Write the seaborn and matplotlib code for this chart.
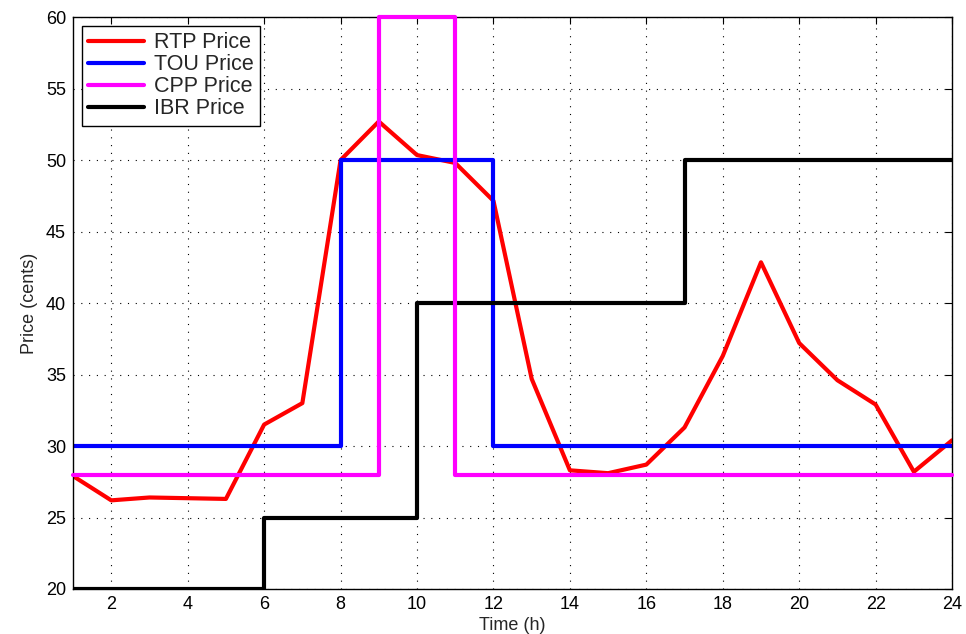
import matplotlib
matplotlib.use("Agg")
import matplotlib.pyplot as plt
import seaborn as sns
import numpy as np

hours = list(range(1, 25))
rtp = [27.9, 26.2, 26.4, 26.35, 26.3, 31.5, 33.0, 50.0, 52.7, 50.35, 49.8, 47.15,
       34.7, 28.3, 28.1, 28.7, 31.3, 36.3, 42.85, 37.2, 34.6, 32.9, 28.2, 30.4]
tou = [30]*7 + [50]*4 + [30]*13
cpp = [28]*8 + [60]*2 + [28]*14
ibr = [20]*5 + [25]*4 + [40]*7 + [50]*8

sns.set_style("white")
plt.rcParams['font.family'] = ['Liberation Sans', 'DejaVu Sans']

fig = plt.figure(figsize=(9.66, 6.34), dpi=100)
ax = fig.add_axes([0.0756, 0.071, 0.91, 0.902])

lw = 3
sns.lineplot(x=hours, y=rtp, ax=ax, color='#ff0000', lw=lw, label='RTP Price')
sns.lineplot(x=hours, y=tou, ax=ax, color='#0000ff', lw=lw, label='TOU Price', drawstyle='steps-post')
sns.lineplot(x=hours, y=cpp, ax=ax, color='#ff00ff', lw=lw, label='CPP Price', drawstyle='steps-post')
sns.lineplot(x=hours, y=ibr, ax=ax, color='#000000', lw=lw, label='IBR Price', drawstyle='steps-post')
ax.lines[2].set_clip_on(False)
ax.lines[2].set_zorder(3)

ax.set_xlim(1, 24)
ax.set_ylim(20, 60)
ax.set_xticks(range(2, 25, 2))
ax.set_yticks(range(20, 61, 5))
ax.grid(True, color='black', linestyle=(0, (1, 6)), linewidth=0.8)
ax.tick_params(direction='in', top=True, right=True, length=5, labelsize=13, colors='black', pad=5)
for s in ax.spines.values():
    s.set_color('black')
    s.set_linewidth(1)
ax.set_xlabel('Time (h)', fontsize=13, labelpad=3)
ax.set_ylabel('Price (cents)', fontsize=13, labelpad=6)

leg = ax.legend(loc='upper left', fontsize=15.5, frameon=True, fancybox=False,
                edgecolor='black', borderaxespad=0.4, handlelength=2.6,
                labelspacing=0.05, borderpad=0.3, handletextpad=0.45)
leg.get_frame().set_linewidth(1)
leg.get_frame().set_alpha(1)

fig.savefig('out.png', dpi=100)
